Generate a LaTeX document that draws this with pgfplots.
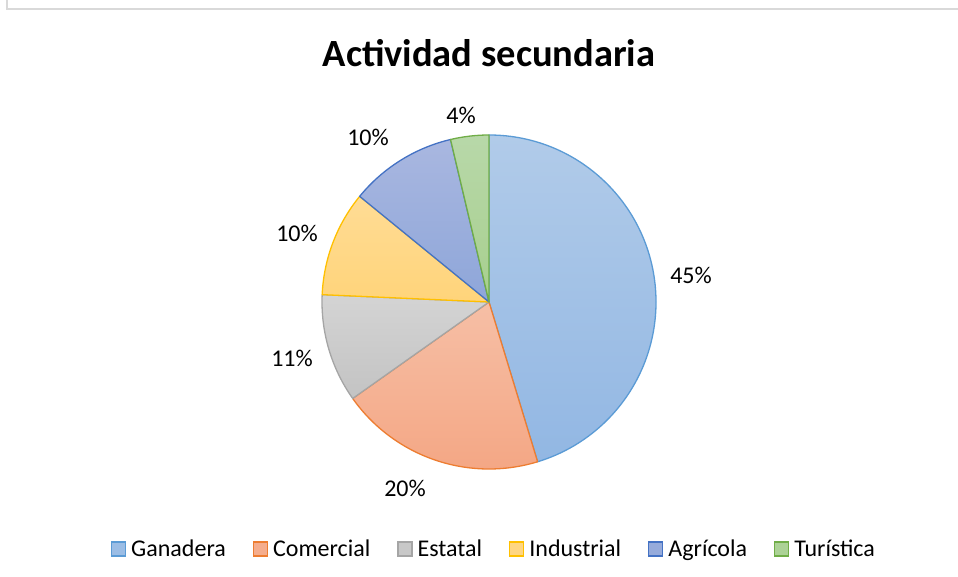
\documentclass[border=0pt]{standalone}
\usepackage{pgfplots}
\pgfplotsset{compat=1.18}
\usepackage{pgfplotstable}
\usepackage{fontspec}
\setmainfont{Carlito}

\definecolor{gA0}{HTML}{B1CBE9}\definecolor{gB0}{HTML}{92B7E3}\definecolor{e0}{HTML}{5B9BD5}
\definecolor{gA1}{HTML}{F6BFA6}\definecolor{gB1}{HTML}{F4A582}\definecolor{e1}{HTML}{ED7D31}
\definecolor{gA2}{HTML}{D4D4D4}\definecolor{gB2}{HTML}{C3C3C3}\definecolor{e2}{HTML}{A5A5A5}
\definecolor{gA3}{HTML}{FFDC95}\definecolor{gB3}{HTML}{FFD47A}\definecolor{e3}{HTML}{FFC000}
\definecolor{gA4}{HTML}{A9B7E0}\definecolor{gB4}{HTML}{8EA6D9}\definecolor{e4}{HTML}{4472C4}
\definecolor{gA5}{HTML}{B8D8A9}\definecolor{gB5}{HTML}{A7CF8E}\definecolor{e5}{HTML}{70AD47}
\definecolor{frame}{HTML}{D9D9D9}

\pgfplotstableread{
name value
Ganadera 45.3
Comercial 19.9
Estatal 10.5
Industrial 10.2
Agricola 10.4
Turistica 3.7
}\piedata

\begin{document}
\begin{tikzpicture}
\def\cum{0}
\pgfplotsforeachungrouped \i in {0,...,5}{%
  \pgfplotstablegetelem{\i}{value}\of\piedata
  \pgfmathsetmacro\startang{90-3.6*\cum}%
  \pgfmathsetmacro\cum{\cum+\pgfplotsretval}%
  \pgfmathsetmacro\stopang{90-3.6*\cum}%
  \expandafter\xdef\csname sa\i\endcsname{\startang}%
  \expandafter\xdef\csname sb\i\endcsname{\stopang}%
}
\begin{axis}[
  scale only axis, width=958bp, height=577bp,
  xmin=0, xmax=958, ymin=0, ymax=577,
  hide axis, clip=false,
  legend columns=6,
  legend image code/.code={\draw[#1,line width=1.2bp] (0bp,-7bp) rectangle (14bp,7bp);},
  legend style={at={(axis cs:493,28)}, anchor=center, draw=none, fill=none,
    font=\fontsize{24bp}{28bp}\selectfont,
    nodes={inner sep=0pt},
    /tikz/every odd column/.append style={column sep=5bp},
    /tikz/every even column/.append style={column sep=27bp},
    cells={anchor=west}},
]
\pgfplotsinvokeforeach{0,...,5}{
  \shade[top color=gA#1, bottom color=gB#1]
    (axis cs:489,275) -- ++(\csname sa#1\endcsname:167bp)
    arc[start angle=\csname sa#1\endcsname, end angle=\csname sb#1\endcsname, radius=167bp] -- cycle;
  \draw[e#1, line width=1.3bp, line join=round]
    (axis cs:489,275) -- ++(\csname sa#1\endcsname:167bp)
    arc[start angle=\csname sa#1\endcsname, end angle=\csname sb#1\endcsname, radius=167bp] -- cycle;
}
\addlegendimage{fill=gB0!70!gA0, draw=e0}\addlegendentry{Ganadera}
\addlegendimage{fill=gB1!70!gA1, draw=e1}\addlegendentry{Comercial}
\addlegendimage{fill=gB2!70!gA2, draw=e2}\addlegendentry{Estatal}
\addlegendimage{fill=gB3!70!gA3, draw=e3}\addlegendentry{Industrial}
\addlegendimage{fill=gB4!70!gA4, draw=e4}\addlegendentry{Agrícola}
\addlegendimage{fill=gB5!70!gA5, draw=e5}\addlegendentry{Turística}

\begin{scope}[every node/.style={font=\fontsize{24bp}{28bp}\selectfont, inner sep=0pt}]
\node at (axis cs:691,302) {45\%};
\node at (axis cs:405,89) {20\%};
\node at (axis cs:292,219) {11\%};
\node at (axis cs:297,344) {10\%};
\node at (axis cs:368,440) {10\%};
\node at (axis cs:461,462) {4\%};
\end{scope}
\node[anchor=base, inner sep=0pt, font=\fontsize{38.5bp}{46bp}\selectfont\bfseries] at (axis cs:489,510) {Actividad secundaria};
\draw[frame, line width=1.5bp] (axis cs:7,577) -- (axis cs:7,568) -- (axis cs:958,568);
\end{axis}
\pgfresetboundingbox
\path (0,0) rectangle (958bp,577bp);
\end{tikzpicture}
\end{document}
